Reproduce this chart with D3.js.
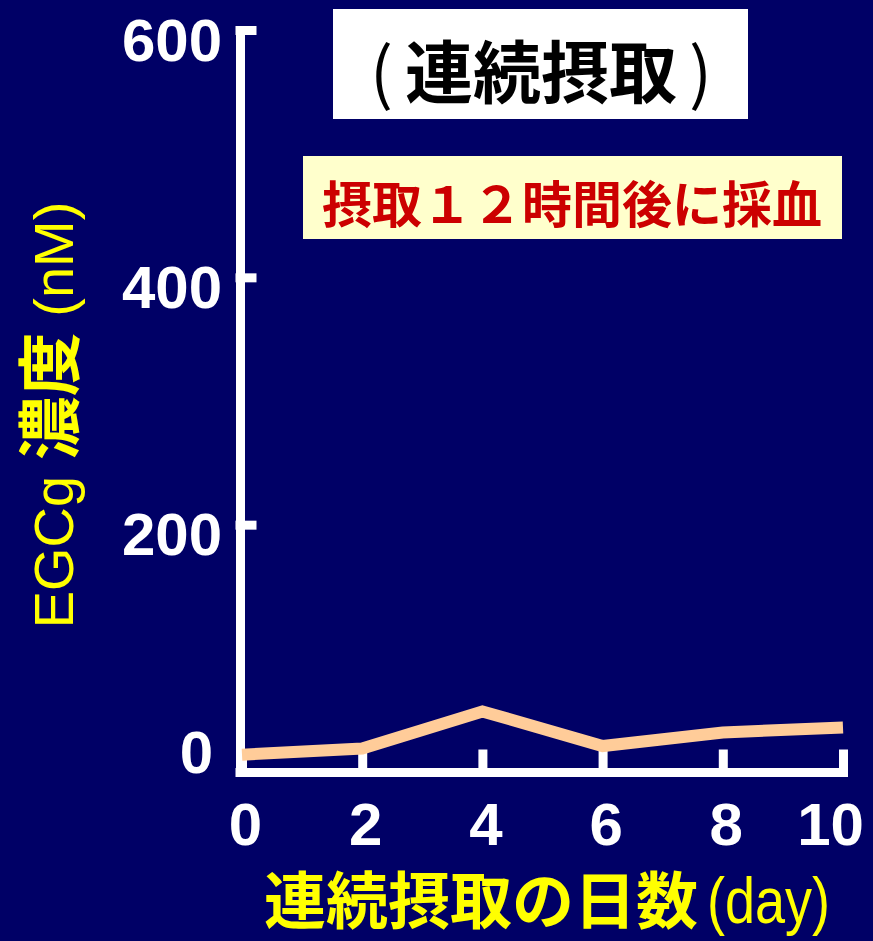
<!DOCTYPE html>
<html>
<head>
<meta charset="utf-8">
<script src="https://cdn.jsdelivr.net/npm/d3@7"></script>
<style>
  html, body { margin: 0; padding: 0; background: #000066; }
  svg { display: block; }
</style>
</head>
<body>
<div id="viz"></div>
<script>
// EGCg blood level, sampled 12h after intake, continuous intake
var days = [0, 2, 4, 6, 8, 10];
var egcg = [14, 19, 49, 21, 32, 36];
var yTicks = [0, 200, 400, 600];

var title = '連続摂取';
var subtitle = '摂取１２時間後に採血';
var xLabel = '連続摂取の日数';
var xUnit = '(day)';

var W = 873, H = 941;
var cjk = '"Noto Sans CJK JP", "Noto Sans CJK SC", sans-serif';
var latin = '"Liberation Sans", Arial, sans-serif';

var svg = d3.select('#viz')
  .append('svg')
  .attr('width', W)
  .attr('height', H);

svg.append('rect')
  .attr('width', W)
  .attr('height', H)
  .attr('fill', '#000066');

var x = d3.scaleLinear().domain([0, 10]).range([242, 843]);
var y = d3.scaleLinear().domain([0, 600]).range([772, 30]);

// AXES
var yAxis = d3.axisLeft(y)
  .tickValues(yTicks)
  .tickSize(-12)
  .tickSizeOuter(0)
  .tickPadding(18);

var xAxis = d3.axisBottom(x)
  .tickValues(days)
  .tickSize(-18)
  .tickSizeOuter(0)
  .tickPadding(0);

var gy = svg.append('g')
  .attr('transform', 'translate(240,0)')
  .call(yAxis);

var gx = svg.append('g')
  .attr('transform', 'translate(0,772)')
  .call(xAxis);

[gx, gy].forEach(function(g) {
  g.selectAll('path, line')
    .attr('stroke', '#ffffff')
    .attr('stroke-width', 9)
    .attr('stroke-linecap', 'square');
  g.selectAll('text')
    .attr('fill', '#ffffff')
    .style('font-family', latin)
    .style('font-weight', 'bold')
    .style('font-size', '60px');
});

// the 0 label sits a bit higher and further left in the original
gy.selectAll('text')
  .attr('dy', function(d) { return d === 0 ? '0em' : '0.5em'; })
  .attr('x', function(d) { return d === 0 ? -27 : -18; });

gx.selectAll('text')
  .attr('y', 73)
  .attr('dy', 0)
  .attr('dx', function(d) { return d === 10 ? -13 : 3; });

// DATA LINE
var line = d3.line()
  .x(function(d, i) { return x(days[i]); })
  .y(function(d) { return y(d); });

svg.append('path')
  .datum(egcg)
  .attr('d', line)
  .attr('fill', 'none')
  .attr('stroke', '#FFCC99')
  .attr('stroke-width', 12)
  .attr('stroke-linejoin', 'miter');

// TITLE BOXES
svg.append('rect')
  .attr('x', 333).attr('y', 9)
  .attr('width', 415).attr('height', 110)
  .attr('fill', '#ffffff');

var tt = svg.append('text')
  .attr('x', 541).attr('y', 68)
  .attr('text-anchor', 'middle')
  .attr('dominant-baseline', 'central')
  .style('font-family', cjk)
  .style('font-size', '68px')
  .attr('fill', '#000000');
tt.append('tspan').style('font-weight', 'normal').text('(');
tt.append('tspan').attr('dx', 12).style('font-weight', 'bold').text(title);
tt.append('tspan').attr('dx', 12).style('font-weight', 'normal').text(')');

svg.append('rect')
  .attr('x', 303).attr('y', 156)
  .attr('width', 539).attr('height', 83)
  .attr('fill', '#FFFFCC');

svg.append('text')
  .attr('x', 572).attr('y', 201)
  .attr('text-anchor', 'middle')
  .attr('dominant-baseline', 'central')
  .style('font-family', cjk)
  .style('font-weight', 'bold')
  .style('font-size', '50px')
  .attr('fill', '#CC0000')
  .text(subtitle);

// AXIS TITLES
svg.append('text')
  .attr('x', 264).attr('y', 924)
  .attr('fill', '#FFFF00')
  .style('font-family', cjk)
  .style('font-weight', 'bold')
  .style('font-size', '62px')
  .text(xLabel);

svg.append('text')
  .attr('x', 707).attr('y', 923)
  .attr('fill', '#FFFF00')
  .attr('textLength', 123)
  .attr('lengthAdjust', 'spacingAndGlyphs')
  .style('font-family', latin)
  .style('font-size', '64px')
  .text(xUnit);

var yt = svg.append('text')
  .attr('transform', 'translate(73,415) rotate(-90)')
  .attr('text-anchor', 'middle')
  .attr('fill', '#FFFF00')
  .style('font-family', latin)
  .style('font-size', '56px');
yt.append('tspan').text('EGCg ');
yt.append('tspan')
  .style('font-family', cjk)
  .style('font-weight', 'bold')
  .style('font-size', '64px')
  .text('濃度');
yt.append('tspan').text(' (nM)');
</script>
</body>
</html>
